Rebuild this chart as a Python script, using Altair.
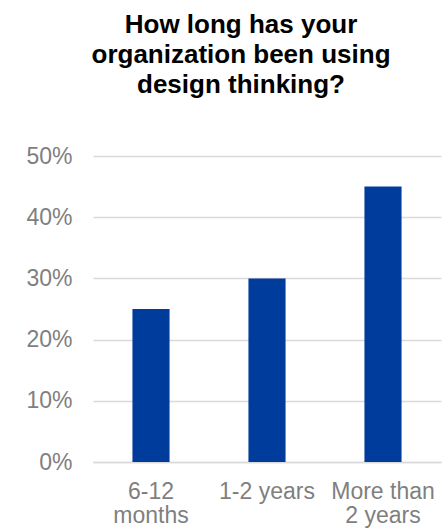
import altair as alt
import pandas as pd

categories = ["6-12 months", "1-2 years", "More than 2 years"]
label_lines = [["6-12", "months"], ["1-2 years"], ["More than", "2 years"]]
values = [0.25, 0.30, 0.45]
title_lines = ["How long has your", "organization been using", "design thinking?"]

df = pd.DataFrame({"category": categories, "value": values})

expr_parts = []
for cat, lines in zip(categories, label_lines):
    arr = "[" + ",".join("'" + l + "'" for l in lines) + "]"
    expr_parts.append(f"datum.label == '{cat}' ? {arr} : ")
label_expr = "".join(expr_parts) + "datum.label"

font = "Liberation Sans"

chart = (
    alt.Chart(df)
    .mark_bar(color="#003C9B")
    .encode(
        x=alt.X(
            "category:N",
            sort=categories,
            scale=alt.Scale(paddingInner=0.68, paddingOuter=0.34),
            axis=alt.Axis(
                title=None,
                labelAngle=0,
                labelExpr=label_expr,
                labelFont=font,
                labelFontSize=23,
                labelColor="#7F7F7F",
                labelLineHeight=24,
                labelPadding=18,
                ticks=False,
                domainColor="#D9D9D9",
                domainWidth=1.5,
                grid=False,
            ),
        ),
        y=alt.Y(
            "value:Q",
            scale=alt.Scale(domain=[0, 0.5]),
            axis=alt.Axis(
                title=None,
                format=".0%",
                values=[0, 0.1, 0.2, 0.3, 0.4, 0.5],
                labelFont=font,
                labelFontSize=23,
                labelColor="#7F7F7F",
                labelPadding=21,
                ticks=False,
                domain=False,
                gridColor="#D9D9D9",
                gridWidth=1.5,
            ),
        ),
    )
    .properties(
        width=348,
        height=306,
        autosize=alt.AutoSizeParams(type="none"),
        padding={"left": 93, "top": 156, "right": 7, "bottom": 67},
        title=alt.Title(
            text=title_lines,
            font=font,
            fontSize=26,
            fontWeight="bold",
            color="#000000",
            lineHeight=30,
            anchor="middle",
            frame="group",
            dx=-26,
            offset=47,
        ),
    )
    .configure_view(stroke=None)
)

chart.save("out.html", embed_options={"renderer": "svg", "actions": False})
